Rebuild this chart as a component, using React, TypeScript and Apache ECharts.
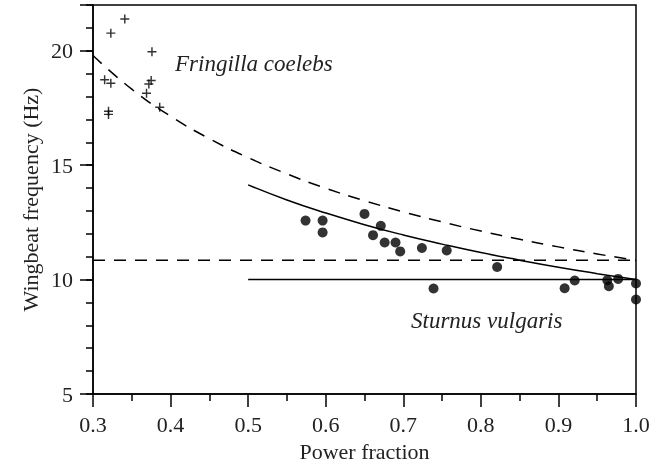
import React, { useEffect, useRef } from "react";
import * as echarts from "echarts";

// Fringilla coelebs (crosses)
const fringillaPower = [0.341, 0.323, 0.376, 0.315, 0.323, 0.375, 0.372, 0.369, 0.386, 0.32, 0.32];
const fringillaFreq = [21.39, 20.77, 19.96, 18.73, 18.58, 18.7, 18.55, 18.14, 17.53, 17.36, 17.22];

// Sturnus vulgaris (dots)
const sturnusPower = [0.574, 0.596, 0.596, 0.65, 0.671, 0.661, 0.676, 0.69, 0.696, 0.724, 0.756, 0.821, 0.739, 0.908, 0.921, 0.963, 0.965, 0.977, 1.0, 1.0];
const sturnusFreq = [12.58, 12.58, 12.06, 12.87, 12.35, 11.94, 11.62, 11.62, 11.23, 11.38, 11.27, 10.55, 9.61, 9.62, 9.96, 9.97, 9.71, 10.03, 9.83, 9.13];

// dashed curve
const dashedCurvePower = [0.3, 0.35, 0.4, 0.45, 0.5, 0.55, 0.6, 0.65, 0.7, 0.75, 0.8, 0.85, 0.9, 0.95, 1.0];
const dashedCurveFreq = [19.79, 18.32, 17.14, 16.16, 15.33, 14.62, 13.99, 13.45, 12.96, 12.52, 12.12, 11.76, 11.43, 11.12, 10.84];

// solid curve
const solidCurvePower = [0.5, 0.55, 0.6, 0.65, 0.7, 0.75, 0.8, 0.85, 0.9, 0.95, 1.0];
const solidCurveFreq = [14.14, 13.48, 12.91, 12.4, 11.95, 11.55, 11.18, 10.85, 10.54, 10.26, 10.0];

// horizontal reference lines
const dashedLevelPower = [0.3, 1.0];
const dashedLevelFreq = [10.84, 10.84];
const solidLevelPower = [0.5, 1.0];
const solidLevelFreq = [10.0, 10.0];

const xTicks = { min: 0.3, max: 1.0, interval: 0.1 };
const yTicks = { min: 5, max: 22, interval: 5 };
const yMajorTicks = [5, 10, 15, 20, 22];
const yTickLabels = [5, 10, 15, 20];

const FONT = "'Liberation Serif', 'Times New Roman', Times, serif";

const pairs = (xs: number[], ys: number[]) => xs.map((x, i) => [x, ys[i]]);

const plusPath =
  "path://M-0.16,-1H0.16V-0.16H1V0.16H0.16V1H-0.16V0.16H-1V-0.16H-0.16Z";

export default function App() {
  const ref = useRef<HTMLDivElement>(null);
  useEffect(() => {
    if (!ref.current) return;
    const chart = echarts.init(ref.current, undefined, { renderer: "svg" });
    const lineBase = { type: "line" as const, showSymbol: false, symbol: "none", silent: true, z: 2 };
    chart.setOption({
      animation: false,
      grid: {
        left: 93,
        right: 29,
        top: 5,
        bottom: 77,
        show: true,
        borderColor: "#000",
        borderWidth: 1.5,
        backgroundColor: "transparent",
      },
      xAxis: {
        type: "value",
        min: xTicks.min,
        max: xTicks.max,
        interval: xTicks.interval,
        name: "Power fraction",
        nameLocation: "middle",
        nameGap: 46,
        nameTextStyle: { fontFamily: FONT, fontSize: 22, color: "#222" },
        axisLine: { show: true, lineStyle: { color: "#000", width: 1.5 } },
        axisTick: { show: true, inside: false, length: 13, lineStyle: { color: "#000", width: 1.5 } },
        minorTick: { show: true, splitNumber: 2, length: 7, lineStyle: { color: "#000", width: 1.5 } },
        axisLabel: {
          fontFamily: FONT,
          fontSize: 22,
          color: "#222",
          margin: 19,
          formatter: (v: number) => v.toFixed(1),
        },
        splitLine: { show: false },
        minorSplitLine: { show: false },
      },
      yAxis: [
        {
          type: "value",
          min: yTicks.min,
          max: yTicks.max,
          interval: 1,
          position: "left",
          name: "Wingbeat frequency (Hz)",
          nameLocation: "middle",
          nameGap: 52,
          nameTextStyle: { fontFamily: FONT, fontSize: 22, color: "#222" },
          axisLine: { show: true, lineStyle: { color: "#000", width: 1.5 } },
          axisTick: { show: true, inside: false, length: 7, lineStyle: { color: "#000", width: 1.5 } },
          axisLabel: { show: false },
          splitLine: { show: false },
        },
        {
          type: "value",
          min: yTicks.min,
          max: yTicks.max,
          interval: yTicks.interval,
          position: "left",
          offset: 0,
          axisLine: { show: false },
          axisTick: {
            show: true,
            inside: false,
            length: 13,
            customValues: yMajorTicks,
            lineStyle: { color: "#000", width: 1.5 },
          },
          axisLabel: {
            fontFamily: FONT,
            fontSize: 22,
            color: "#222",
            margin: 20,
            customValues: yTickLabels,
          },
          splitLine: { show: false },
        },
      ],
      graphic: [
        {
          type: "text",
          left: 175,
          top: 52,
          style: { text: "Fringilla coelebs", fontFamily: FONT, fontStyle: "italic", fontSize: 23, fill: "#222" },
        },
        {
          type: "text",
          left: 411,
          top: 309,
          style: { text: "Sturnus vulgaris", fontFamily: FONT, fontStyle: "italic", fontSize: 23, fill: "#222" },
        },
      ],
      series: [
        {
          ...lineBase,
          data: pairs(dashedCurvePower, dashedCurveFreq),
          smooth: true,
          lineStyle: { color: "#000", width: 1.5, type: [12, 9] },
        },
        {
          ...lineBase,
          data: pairs(dashedLevelPower, dashedLevelFreq),
          lineStyle: { color: "#000", width: 1.5, type: [12, 9] },
        },
        {
          ...lineBase,
          data: pairs(solidCurvePower, solidCurveFreq),
          smooth: true,
          lineStyle: { color: "#000", width: 1.5 },
        },
        {
          ...lineBase,
          data: pairs(solidLevelPower, solidLevelFreq),
          lineStyle: { color: "#000", width: 1.5 },
        },
        {
          type: "scatter",
          data: pairs(fringillaPower, fringillaFreq),
          symbol: plusPath,
          symbolSize: 9,
          itemStyle: { color: "#000" },
          z: 3,
        },
        {
          type: "scatter",
          data: pairs(sturnusPower, sturnusFreq),
          symbol: "circle",
          symbolSize: 10,
          itemStyle: { color: "#000" },
          z: 3,
        },
      ],
    });
    return () => chart.dispose();
  }, []);
  return <div ref={ref} style={{ position: "fixed", left: 0, top: 0, width: 665, height: 471 }} />;
}
